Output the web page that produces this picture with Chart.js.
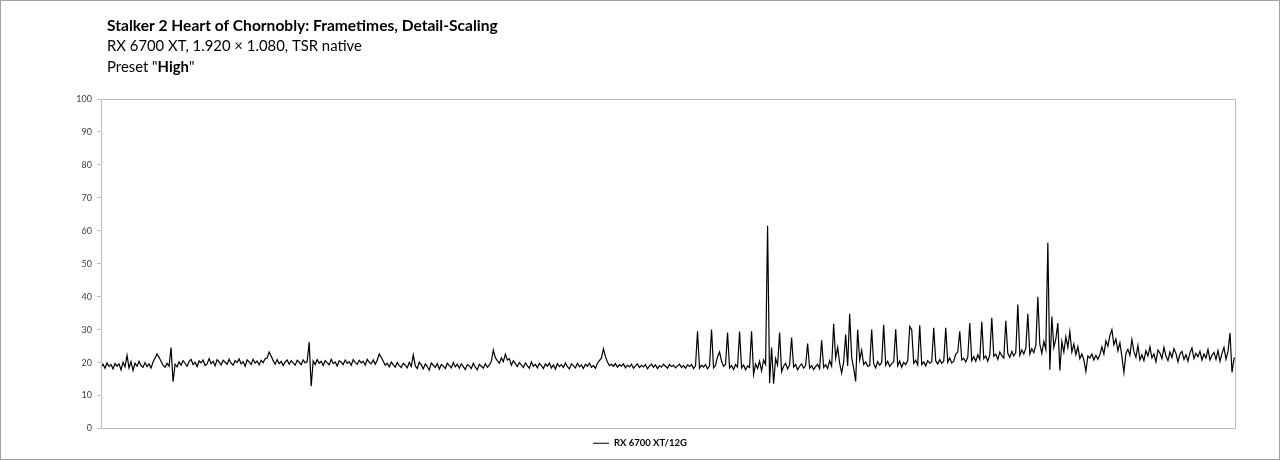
<!DOCTYPE html>
<html>
<head>
<meta charset="utf-8">
<script src="https://cdn.jsdelivr.net/npm/chart.js@4.4.1/dist/chart.umd.min.js"></script>
<style>
  html, body { margin: 0; padding: 0; background: #fff; }
</style>
</head>
<body>
<canvas id="myChart" width="1280" height="460"></canvas>
<script>
const seriesName = 'RX 6700 XT/12G'
const titleMain = 'Stalker 2 Heart of Chornobly: Frametimes, Detail-Scaling'
const titleSub = 'RX 6700 XT, 1.920 × 1.080, TSR native'
const titlePreset = ['Preset "', 'High', '"']
const yTicks = [0, 10, 20, 30, 40, 50, 60, 70, 80, 90, 100]

// frametimes in ms left to right
const frametimes = [
  18.6, 19.5, 18.3, 19.9, 18.8, 19.4, 18.1, 19.7, 18.9, 19.6,
  17.8, 20.1, 18.7, 22.2, 18.4, 20.3, 17.6, 19.8, 18.9, 20.4,
  19.1, 18.6, 20.0, 18.8, 19.6, 18.4, 20.2, 21.4, 22.6, 21.6,
  20.4, 19.2, 18.6, 19.8, 18.9, 24.6, 14.2, 19.5, 18.7, 20.2,
  19.2, 20.6, 19.8, 18.9, 20.3, 21.0, 19.4, 20.1, 18.8, 20.5,
  19.9, 20.8, 19.1, 19.6, 21.2, 19.7, 20.4, 19.0, 20.9, 20.2,
  19.3, 20.7, 20.1, 19.5, 21.0, 19.8, 19.2, 20.6, 20.0, 21.1,
  19.6, 20.3, 18.9, 20.8, 20.2, 19.4, 21.0, 19.9, 20.5, 19.3,
  20.7, 20.0, 21.2, 21.4, 23.2, 22.0, 20.6, 19.5, 20.9, 19.7,
  20.4, 19.1, 20.2, 20.8, 19.5, 20.6, 19.9, 19.2, 20.7, 20.1,
  19.4, 20.8, 19.9, 20.3, 26.2, 12.8, 20.5, 19.4, 20.9, 19.8,
  20.4, 19.1, 20.6, 20.0, 19.3, 21.0, 19.7, 20.2, 19.0, 20.6,
  20.1, 19.4, 20.8, 19.8, 20.3, 19.2, 20.9, 20.0, 19.5, 20.7,
  19.9, 20.4, 19.2, 21.0, 20.1, 19.6, 20.8, 19.5, 20.8, 22.6,
  21.6, 20.4, 19.2, 19.8, 18.7, 20.2, 19.3, 18.6, 20.0, 19.1,
  18.5, 19.8, 19.2, 18.4, 20.1, 18.8, 22.4, 19.0, 18.2, 20.1,
  19.3, 18.1, 19.6, 18.8, 17.7, 19.9, 19.2, 18.5, 19.7, 18.0,
  19.4, 18.9, 18.2, 19.8, 19.1, 18.4, 20.0, 18.7, 19.5, 18.3,
  19.6, 18.8, 17.9, 19.4, 19.0, 18.2, 19.8, 18.6, 17.8, 19.5,
  18.9, 18.3, 19.7, 18.6, 19.2, 20.4, 23.8, 21.5, 20.6, 19.8,
  21.4, 20.3, 22.6, 20.8, 21.2, 19.2, 20.6, 19.7, 18.8, 20.0,
  19.3, 18.5, 19.9, 19.0, 18.3, 20.2, 18.9, 19.5, 18.4, 19.8,
  19.1, 18.2, 19.6, 18.9, 19.9, 18.4, 19.3, 18.0, 19.7, 18.8,
  19.4, 18.5, 19.9, 18.8, 18.1, 19.6, 19.0, 18.4, 19.8, 18.7,
  19.3, 18.2, 19.5, 18.9, 19.8, 18.6, 19.1, 18.3, 19.8, 20.6,
  21.4, 24.2, 21.8, 20.2, 19.1, 19.5, 18.9, 19.7, 18.6, 19.4,
  18.9, 19.6, 18.4, 19.2, 18.7, 19.5, 18.3, 19.0, 19.6, 18.5,
  19.2, 18.7, 19.4, 18.1, 19.0, 19.5, 18.6, 19.3, 18.2, 19.1,
  18.6, 19.5, 18.9, 18.3, 19.4, 18.8, 19.2, 18.4, 19.0, 19.5,
  18.5, 19.1, 18.3, 19.3, 18.8, 19.4, 18.2, 19.0, 29.5, 18.3,
  19.2, 18.6, 19.4, 18.1, 19.0, 30.0, 18.4, 19.2, 21.8, 23.2,
  20.4, 18.9, 19.4, 29.1, 18.4, 19.1, 17.9, 19.4, 18.6, 29.4,
  18.4, 19.3, 17.8, 19.0, 18.5, 29.5, 16.4, 19.6, 18.2, 20.4,
  17.5, 20.8, 19.4, 61.5, 13.8, 24.6, 13.6, 21.2, 19.2, 29.1,
  17.2, 18.9, 19.8, 18.1, 19.3, 27.6, 18.6, 19.4, 17.8, 18.9,
  19.6, 18.3, 19.1, 25.8, 18.3, 19.1, 17.9, 18.8, 19.5, 18.2,
  26.8, 18.5, 19.4, 18.2, 20.6, 18.9, 31.8, 21.4, 24.6, 19.8,
  16.8, 20.2, 28.5, 19.0, 34.8, 21.6, 18.3, 14.3, 30.0, 20.8,
  23.8, 19.4, 20.2, 18.9, 19.1, 30.0, 19.6, 18.4, 20.3, 19.2,
  20.0, 31.5, 19.2, 20.4, 18.8, 19.7, 20.2, 30.1, 19.0, 20.5,
  18.6, 20.1, 19.4, 20.6, 31.0, 30.0, 19.8, 20.7, 19.3, 31.3,
  19.4, 20.2, 19.0, 20.6, 19.8, 20.3, 30.6, 20.5, 19.6, 20.9,
  19.8, 20.4, 30.6, 20.1, 21.4, 19.9, 20.4, 22.6, 23.2, 29.5,
  20.8, 21.3, 20.2, 21.6, 32.0, 20.6, 21.8, 20.4, 22.4, 21.0,
  32.4, 21.2, 22.0, 20.4, 22.3, 33.6, 21.9, 22.6, 21.0, 23.2,
  22.1, 21.4, 32.7, 22.8, 21.6, 23.4, 22.0, 23.1, 37.6, 22.2,
  23.8, 22.6, 24.4, 34.8, 22.6, 24.2, 23.0, 25.2, 40.0, 25.6,
  22.8, 26.4, 24.0, 56.4, 17.8, 34.0, 24.6, 27.2, 32.0, 17.6,
  26.4, 23.2, 27.8, 24.6, 29.4, 23.2, 25.6, 22.4, 24.8, 21.2,
  22.6, 20.8, 17.3, 22.0, 21.4, 22.6, 20.8, 22.2, 21.0, 22.4,
  24.8, 22.6, 26.6, 25.0, 28.2, 30.0, 25.4, 27.2, 23.6, 26.0,
  21.8, 17.0, 22.8, 24.0, 22.2, 27.0, 23.4, 21.6, 25.2, 20.8,
  22.4, 20.6, 23.6, 22.0, 24.8, 21.4, 22.6, 20.2, 23.8, 22.9,
  21.2, 24.6, 22.0, 20.6, 23.2, 21.6, 24.2, 22.8, 20.2, 22.6,
  23.4, 21.0, 22.4, 20.4, 23.0, 24.4, 21.2, 22.8, 21.8, 23.4,
  20.8, 22.6, 21.4, 24.0, 20.8, 22.2, 23.1, 21.0, 23.6, 20.4,
  22.8, 24.6, 21.0, 23.4, 29.0, 17.0, 21.2, 21.6,
]

const fontFamily = 'Lato, "Noto Sans", sans-serif'
const labels = frametimes.map((_, i) => i)

function fitSize(ctx, text, weight, width) {
  ctx.font = `${weight} 100px ${fontFamily}`
  return (100 * width) / ctx.measureText(text).width
}

const frame = {
  id: 'frame',
  beforeDraw: chart => {
    const ctx = chart.ctx
    ctx.save()
    ctx.fillStyle = '#ffffff'
    ctx.fillRect(0, 0, chart.width, chart.height)
    ctx.restore()
  },
  afterDraw: chart => {
    const ctx = chart.ctx
    const { top, left, right, bottom } = chart.chartArea
    ctx.save()
    // plot border
    ctx.strokeStyle = '#bfbfbf'
    ctx.lineWidth = 1
    const l = Math.round(left) + 0.5
    const t = Math.round(top) + 0.5
    const r = Math.round(right) - 0.5
    const b = Math.round(bottom) - 0.5
    ctx.strokeRect(l, t, r - l, b - t)
    // outer border
    ctx.strokeStyle = '#a0a0a0'
    ctx.strokeRect(0.5, 0.5, chart.width - 1, chart.height - 1)

    // titles
    ctx.fillStyle = '#000000'
    ctx.textAlign = 'left'
    ctx.textBaseline = 'alphabetic'
    const s1 = fitSize(ctx, titleMain, 'bold', 391)
    ctx.font = `bold ${s1}px ${fontFamily}`
    ctx.fillText(titleMain, 107, 31)
    const s2 = fitSize(ctx, titleSub, 'normal', 255)
    ctx.font = `normal ${s2}px ${fontFamily}`
    ctx.fillText(titleSub, 107, 51)
    let x = 107
    titlePreset.forEach((part, i) => {
      ctx.font = `${i === 1 ? 'bold' : 'normal'} ${s2}px ${fontFamily}`
      ctx.fillText(part, x, 72)
      x += ctx.measureText(part).width
    })
    ctx.restore()
  },
}

const ctx = document.getElementById('myChart')

new Chart(ctx, {
  type: 'line',
  data: {
    labels,
    datasets: [
      {
        label: seriesName,
        data: frametimes,
        borderColor: '#000000',
        backgroundColor: '#000000',
        borderWidth: 1.2,
        pointRadius: 0,
        tension: 0,
      },
    ],
  },
  plugins: [frame],
  options: {
    animation: false,
    responsive: false,
    layout: {
      padding: { top: 99, right: 0, bottom: 2, left: 0 },
    },
    scales: {
      x: {
        type: 'category',
        ticks: { display: false },
        grid: { display: false },
        border: { display: false },
        afterFit: s => { s.height = 0 },
      },
      y: {
        min: 0,
        max: 100,
        afterFit: s => { s.width = 101 },
        afterBuildTicks: s => { s.ticks = yTicks.map(v => ({ value: v })) },
        ticks: {
          padding: 5,
          color: '#404040',
          font: { family: fontFamily, size: 9 },
        },
        grid: {
          drawOnChartArea: false,
          drawTicks: true,
          tickLength: 4,
          color: '#bfbfbf',
        },
        border: { display: false },
      },
      yRight: {
        position: 'right',
        min: 0,
        max: 100,
        ticks: { display: false },
        grid: { display: false },
        border: { display: false },
        afterFit: s => { s.width = 44 },
      },
    },
    plugins: {
      title: { display: false },
      tooltip: { enabled: false },
      legend: {
        display: true,
        position: 'bottom',
        labels: {
          usePointStyle: true,
          pointStyle: 'line',
          pointStyleWidth: 16,
          color: '#000000',
          padding: 10,
          font: { family: fontFamily, size: 9.5, weight: 'bold' },
        },
      },
    },
  },
})
</script>
</body>
</html>
